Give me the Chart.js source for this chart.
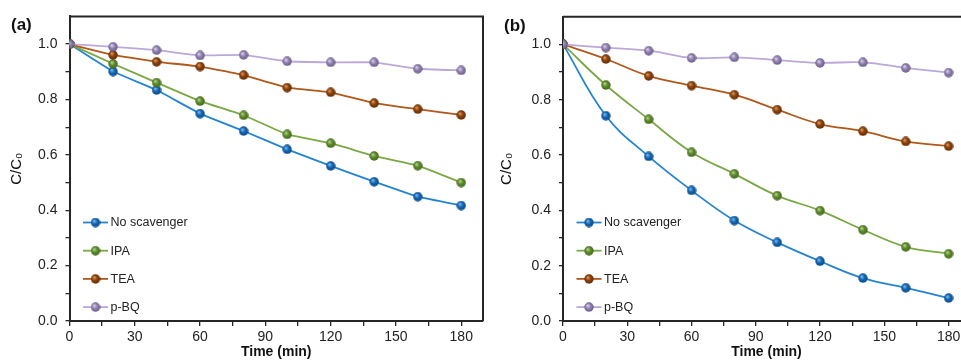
<!DOCTYPE html>
<html>
<head>
<meta charset="utf-8">
<script src="https://cdn.jsdelivr.net/npm/chart.js@4.4.1/dist/chart.umd.min.js"></script>
<style>
  html,body{margin:0;padding:0;background:#fff;overflow:hidden;width:961px;height:361px;}
  .wrap{position:absolute;top:0;}
  .panel{position:absolute;font:bold 17px "Liberation Sans",Arial,sans-serif;color:#111;line-height:17px;}
</style>
</head>
<body>
<div class="wrap" style="left:0"><canvas id="chartA" width="490" height="361"></canvas></div>
<div class="wrap" style="left:490px"><canvas id="chartB" width="500" height="361"></canvas></div>
<div class="panel" style="left:11px;top:16px">(a)</div>
<div class="panel" style="left:504px;top:17px">(b)</div>
<script>
// time points (min)
const timeMin = [0, 20, 40, 60, 80, 100, 120, 140, 160, 180];
const seriesNames = ['No scavenger', 'IPA', 'TEA', 'p-BQ'];

// panel (a)
const aNoScav = [1, 0.901, 0.834, 0.749, 0.686, 0.620, 0.560, 0.503, 0.449, 0.417];
const aIPA    = [1, 0.929, 0.861, 0.794, 0.743, 0.674, 0.642, 0.596, 0.561, 0.500];
const aTEA    = [1, 0.961, 0.936, 0.919, 0.888, 0.843, 0.826, 0.787, 0.765, 0.744];
const aPBQ    = [1, 0.990, 0.978, 0.959, 0.961, 0.938, 0.934, 0.934, 0.911, 0.905];

// panel (b)
const bNoScav = [1, 0.742, 0.595, 0.472, 0.363, 0.284, 0.216, 0.155, 0.120, 0.083];
const bIPA    = [1, 0.853, 0.729, 0.610, 0.532, 0.453, 0.399, 0.330, 0.268, 0.243];
const bTEA    = [1, 0.947, 0.886, 0.851, 0.818, 0.764, 0.712, 0.686, 0.649, 0.632];
const bPBQ    = [1, 0.988, 0.977, 0.951, 0.953, 0.943, 0.933, 0.935, 0.915, 0.898];

// axis ticks (every other one is an unlabelled minor tick)
const xTickVals = [0, 15, 30, 45, 60, 75, 90, 105, 120, 135, 150, 165, 180];
const yTickVals = [0, 0.1, 0.2, 0.3, 0.4, 0.5, 0.6, 0.7, 0.8, 0.9, 1.0];
const xMax = 190, yMax = 1.1;

const lineColors = ['#2484d2', '#79a845', '#b0571b', '#bba8d8'];
// sphere shading: highlight, body, edge
const ballColors = [
  ['#7fbef0', '#1468b6', '#0a467f'],
  ['#b6d68a', '#5f8c2e', '#3f6318'],
  ['#e09a5c', '#8f420a', '#5e2a04'],
  ['#ddd2ee', '#9283b0', '#655783']
];

Chart.defaults.font.family = '"Liberation Sans", Arial, sans-serif';
Chart.defaults.color = '#222';

function makeBall(c){
  const cv = document.createElement('canvas');
  cv.width = 10; cv.height = 10;
  const g = cv.getContext('2d');
  const grad = g.createRadialGradient(3.6, 3.4, 0.3, 5, 5, 5);
  grad.addColorStop(0, c[0]);
  grad.addColorStop(0.45, c[1]);
  grad.addColorStop(1, c[2]);
  g.fillStyle = grad;
  g.beginPath(); g.arc(5, 5, 4.7, 0, Math.PI*2); g.fill();
  return cv;
}
const balls = ballColors.map(makeBall);

function toPoints(vals){ return timeMin.map((t,i)=>({x:t, y:vals[i]})); }

function buildDatasets(list, tension){
  return list.map((vals,i)=>({
    label: seriesNames[i],
    data: toPoints(vals),
    borderColor: lineColors[i],
    backgroundColor: lineColors[i],
    borderWidth: 1.8,
    pointStyle: balls[i],
    pointRadius: 5,
    tension: tension
  })).reverse();
}

// draws the top/right frame and the inset legend
const framePlugin = {
  id: 'frameLegend',
  afterDraw(chart){
    const {ctx, chartArea:ca} = chart;
    ctx.save();
    ctx.strokeStyle = '#262626';
    ctx.lineWidth = 2;
    ctx.beginPath();
    ctx.moveTo(ca.left, ca.top); ctx.lineTo(ca.right, ca.top); ctx.lineTo(ca.right, ca.bottom);
    ctx.stroke();

    const x1 = ca.left + 13.5, x2 = ca.left + 38.5;
    ctx.font = '12.5px "Liberation Sans", Arial, sans-serif';
    ctx.textBaseline = 'middle';
    ctx.fillStyle = '#222';
    seriesNames.forEach((name,i)=>{
      const y = ca.bottom - 98.5 + i*28.2;
      ctx.strokeStyle = lineColors[i];
      ctx.lineWidth = 1.8;
      ctx.beginPath(); ctx.moveTo(x1, y); ctx.lineTo(x2, y); ctx.stroke();
      ctx.drawImage(balls[i], (x1+x2)/2 - 5, y - 5);
      ctx.fillText(name, x2 + 2.5, y + 0.5);
    });
    ctx.restore();
  }
};

function makeChart(id, datasets, pad, yWidth){
  return new Chart(document.getElementById(id), {
    type: 'line',
    data: { datasets },
    plugins: [framePlugin],
    options: {
      responsive: false,
      animation: false,
      layout: { padding: pad },
      plugins: { legend: {display:false}, tooltip: {enabled:false} },
      scales: {
        x: {
          type: 'linear', min: 0, max: xMax,
          afterBuildTicks(s){ s.ticks = xTickVals.map(v=>({value:v})); },
          afterFit(s){ s.height = 40; },
          border: { color:'#262626', width:2 },
          grid: { drawOnChartArea:false, drawTicks:true, tickLength:5, color:'#262626', lineWidth:1.3 },
          ticks: {
            autoSkip:false, maxRotation:0, padding:3,
            font: { size:14 }, color:'#222',
            callback: v => (v % 30 === 0) ? String(v) : ''
          },
          title: { display:true, text:'Time (min)', font:{ size:14, weight:'bold' }, color:'#111', padding:{top:0,bottom:0} }
        },
        y: {
          min: 0, max: yMax,
          afterBuildTicks(s){ s.ticks = yTickVals.map(v=>({value:v})); },
          afterFit(s){ s.width = yWidth; },
          border: { color:'#262626', width:2 },
          grid: { drawOnChartArea:false, drawTicks:true, tickLength:4, color:'#262626', lineWidth:1.3 },
          ticks: {
            autoSkip:false, padding:8,
            font: { size:14 }, color:'#222',
            callback: v => { const k = Math.round(v*10); return (k % 2 === 0) ? (k/10).toFixed(1) : ''; }
          },
          title: { display:true, text:'C/C\u2080', font:{ size:15 }, color:'#111', padding:{top:8,bottom:0} }
        }
      }
    }
  });
}

makeChart('chartA', buildDatasets([aNoScav, aIPA, aTEA, aPBQ], 0.1), {left:0, right:7, top:15, bottom:0}, 69.5);
makeChart('chartB', buildDatasets([bNoScav, bIPA, bTEA, bPBQ], 0.4), {left:0, right:20, top:16.7, bottom:0}, 73);
</script>
</body>
</html>
